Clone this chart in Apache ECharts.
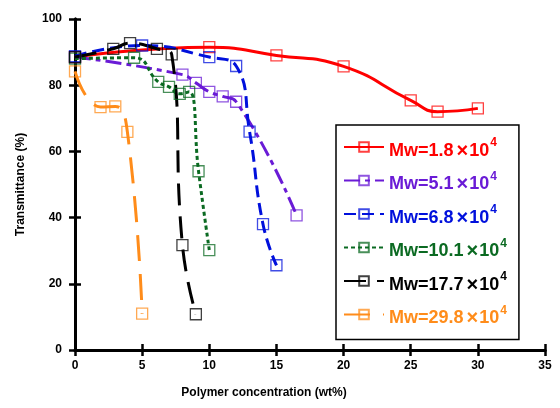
<!DOCTYPE html>
<html>
<head>
<meta charset="utf-8">
<script src="https://cdn.jsdelivr.net/npm/echarts@6/dist/echarts.min.js"></script>
<style>
  html, body { margin: 0; background: #fff; }
  #chart { width: 560px; height: 408px; }
</style>
</head>
<body>
<div id="chart"></div>
<script>
// Transmittance (%) vs polymer concentration (wt%), one array per molecular weight
const mw18 = [[0, 88.5], [10, 91.5], [15, 89], [20, 85.7], [25, 75.4], [27, 72], [30, 73]];
const mw51 = [[0, 88.5], [8, 83.2], [9, 80.7], [10, 78], [11, 76.6], [12, 75], [16.5, 40.7]];
const mw68 = [[0, 88.8], [5, 92], [10, 88.5], [12, 85.8], [13, 66], [14, 38], [15, 25.6]];
const mw101 = [[0, 88], [4.4, 88.3], [6.2, 81], [7, 79.5], [7.8, 77.4], [8.5, 78], [9.2, 54], [10, 30.2]];
const mw177 = [[0, 88.5], [2.85, 91], [4.1, 92.7], [6.1, 91], [7.2, 89.3], [8, 31.7], [9, 10.8]];
const mw298 = [[0, 84.2], [1.9, 73.4], [3, 73.6], [3.9, 65.9], [5, 11]];

const mwLabels = ['1.8', '5.1', '6.8', '10.1', '17.7', '29.8'];
const mwData = [mw18, mw51, mw68, mw101, mw177, mw298];

const colors = ['#ff0000', '#6a1bd6', '#0010dc', '#0b6a22', '#000000', '#ff8c1a'];
const dashes = ['solid', [16, 5, 5, 5], [12, 6], [4, 3], [22, 11], [26, 13]];

const FONT = '"Liberation Sans", Arial, sans-serif';

const chart = echarts.init(document.getElementById('chart'));

const rich = {};
colors.forEach((c, i) => {
  rich['t' + i] = { color: c, fontSize: 18, fontWeight: 'bold', fontFamily: FONT, padding: [8, 0, 0, 0] };
  rich['x' + i] = { color: c, fontSize: 20, fontWeight: 'bold', fontFamily: FONT, padding: [8, 1, 0, 3] };
  rich['s' + i] = { color: c, fontSize: 12, fontWeight: 'bold', fontFamily: FONT, padding: [0, 0, 8, 1] };
});

const names = mwLabels.map((v) => 'Mw=' + v + '|×|10^4');

const axisCommon = {
  min: 0,
  axisLine: { lineStyle: { color: '#000', width: 3 } },
  axisTick: { inside: true, length: 6, lineStyle: { color: '#000', width: 2.5 } },
  splitLine: { show: false },
};

chart.setOption({
  animation: false,
  backgroundColor: '#fff',
  grid: { left: 75, right: 15, top: 19, bottom: 58 },
  xAxis: [
    {
      ...axisCommon,
      type: 'value',
      max: 35,
      interval: 5,
      name: 'Polymer concentration (wt%)',
      nameLocation: 'middle',
      nameGap: 37,
      nameTextStyle: { color: '#000', fontSize: 12, fontWeight: 'bold', fontFamily: FONT, padding: [0, 92, 0, 0] },
      axisLabel: { color: '#000', fontSize: 12, fontWeight: 'bold', fontFamily: FONT, margin: 10 },
    },
    {
      ...axisCommon,
      type: 'value',
      position: 'top',
      max: 35,
      interval: 5,
      axisLabel: { show: false },
    },
  ],
  yAxis: [
    {
      ...axisCommon,
      type: 'value',
      max: 100,
      interval: 20,
      name: 'Transmittance (%)',
      nameLocation: 'middle',
      nameGap: 48,
      nameTextStyle: { color: '#000', fontSize: 12, fontWeight: 'bold', fontFamily: FONT },
      axisLabel: { color: '#000', fontSize: 12, fontWeight: 'bold', fontFamily: FONT, margin: 13 },
    },
    {
      ...axisCommon,
      type: 'value',
      position: 'right',
      max: 100,
      interval: 20,
      axisLabel: { show: false },
    },
  ],
  legend: {
    orient: 'vertical',
    left: 336,
    top: 125,
    padding: [12, 12, 11, 7],
    itemGap: 9.5,
    itemWidth: 40,
    itemHeight: 12,
    backgroundColor: '#fff',
    borderColor: '#000',
    borderWidth: 1.5,
    borderRadius: 0,
    data: names,
    formatter: (name) => {
      const i = names.indexOf(name);
      const parts = name.split('|');
      const [ten, sup] = parts[2].split('^');
      return '{t' + i + '|' + parts[0] + '}{x' + i + '|' + parts[1] + '}{t' + i + '|' + ten + '}{s' + i + '|' + sup + '}';
    },
    textStyle: { rich: rich },
  },
  series: mwData.map((d, i) => ({
    name: names[i],
    type: 'line',
    data: d,
    smooth: 0.5,
    symbol: 'rect',
    symbolSize: 11,
    showSymbol: true,
    z: 2,
    lineStyle: { color: colors[i], width: 3, type: dashes[i] },
    itemStyle: { color: 'rgba(255,255,255,0)', borderColor: colors[i], borderWidth: 1.3, opacity: 0.75 },
    emphasis: { disabled: true },
  })),
});
</script>
</body>
</html>
